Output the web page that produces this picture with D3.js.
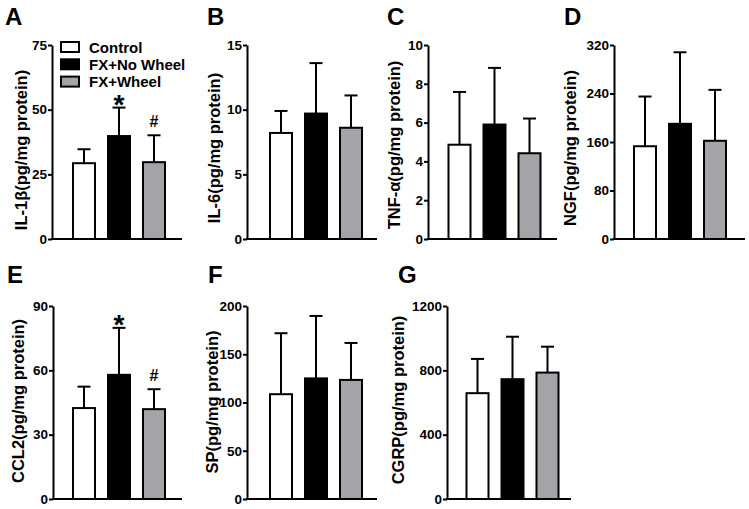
<!DOCTYPE html>
<html><head><meta charset="utf-8">
<script src="https://cdn.jsdelivr.net/npm/d3@7"></script>
<style>
html,body{margin:0;padding:0;background:#fff;}
svg text{font-family:"Liberation Sans",Arial,sans-serif;font-weight:bold;fill:#000;}
</style></head>
<body><svg id="chart" width="749" height="509"></svg>
<script>
// ---- data ----
const groups = ["Control", "FX+No Wheel", "FX+Wheel"];
const panelLetters = ["A", "B", "C", "D", "E", "F", "G"];
const yLabels = ["IL-1β(pg/mg protein)", "IL-6(pg/mg protein)", "TNF-α(pg/mg protein)", "NGF(pg/mg protein)",
                 "CCL2(pg/mg protein)", "SP(pg/mg protein)", "CGRP(pg/mg protein)"];
const il1bMean = [29.3, 39.8, 29.7], il1bSD = [5.4, 11.0, 10.4];
const il6Mean = [8.2, 9.7, 8.6], il6SD = [1.7, 3.9, 2.5];
const tnfMean = [4.86, 5.9, 4.42], tnfSD = [2.72, 2.92, 1.79];
const ngfMean = [153, 190, 162], ngfSD = [82, 118, 84];
const ccl2Mean = [42.4, 57.9, 41.9], ccl2SD = [10.0, 21.9, 9.3];
const spMean = [108.6, 125.0, 123.4], spSD = [63.2, 64.7, 38.3];
const cgrpMean = [658, 745, 786], cgrpSD = [213, 264, 161];
const yTicks = [[0, 25, 50, 75], [0, 5, 10, 15], [0, 2, 4, 6, 8, 10], [0, 80, 160, 240, 320],
                [0, 30, 60, 90], [0, 50, 100, 150, 200], [0, 400, 800, 1200]];
// significance markers: [panel index, group index, symbol]
const markers = [[0, 1, "*"], [0, 2, "#"], [4, 1, "*"], [4, 2, "#"]];

const means = [il1bMean, il6Mean, tnfMean, ngfMean, ccl2Mean, spMean, cgrpMean];
const sds = [il1bSD, il6SD, tnfSD, ngfSD, ccl2SD, spSD, cgrpSD];

// ---- layout (positions only) ----
const layout = [
  {ax: 52,  top: 45,  bot: 239, len: 130, off: 20, lab: 25, let: 47, mid: 150},
  {ax: 247, top: 45,  bot: 239, len: 130, off: 22, lab: 27, let: 40, mid: 148},
  {ax: 428, top: 45,  bot: 239, len: 129, off: 19.5, lab: 28, let: 41, mid: 145},
  {ax: 614, top: 45,  bot: 239, len: 131, off: 19, lab: 38, let: 50, mid: 148},
  {ax: 53,  top: 306, bot: 499, len: 129, off: 19, lab: 29, let: 46, mid: 401},
  {ax: 247, top: 306, bot: 499, len: 130, off: 22, lab: 29, let: 39, mid: 402},
  {ax: 447, top: 306, bot: 499, len: 124, off: 18.5, lab: 43, let: 49, mid: 400}
];
const fills = ["#ffffff", "#000000", "#a4a4a8"];

const svg = d3.select("#chart");

layout.forEach((L, i) => {
  const g = svg.append("g");
  const ticks = yTicks[i];
  const y = d3.scaleLinear().domain([0, ticks[ticks.length - 1]]).range([L.bot, L.top]);
  const step = 35;
  const x = d3.scaleBand().domain(groups)
    .range([L.ax + L.off - 5.5, L.ax + L.off - 5.5 + 3 * step])
    .paddingInner(11 / 35).paddingOuter(5.5 / 35);

  // y axis
  const yAxis = d3.axisLeft(y).tickValues(ticks).tickFormat(d3.format("d"))
    .tickSize(4).tickPadding(1).tickSizeOuter(0);
  const ga = g.append("g").attr("transform", `translate(${L.ax},0)`).call(yAxis);
  ga.select(".domain").attr("stroke", "#000").attr("stroke-width", 2);
  ga.selectAll(".tick line").attr("stroke", "#000").attr("stroke-width", 2);
  ga.selectAll(".tick text").style("font-size", "13.5px")
    .style("font-family", "'Liberation Sans',Arial,sans-serif").style("font-weight", "bold").attr("fill", "#000");

  // error bars (upper only)
  groups.forEach((gr, k) => {
    const cx = x(gr) + x.bandwidth() / 2;
    const yt = y(means[i][k] + sds[i][k]);
    g.append("line").attr("x1", cx).attr("x2", cx).attr("y1", y(means[i][k])).attr("y2", yt)
      .attr("stroke", "#000").attr("stroke-width", 2);
    g.append("line").attr("x1", cx - 6.5).attr("x2", cx + 6.5).attr("y1", yt).attr("y2", yt)
      .attr("stroke", "#000").attr("stroke-width", 2);
  });

  // bars
  g.selectAll("rect.bar").data(groups).enter().append("rect")
    .attr("x", d => x(d) + 1).attr("width", x.bandwidth() - 2)
    .attr("y", (d, k) => y(means[i][k]))
    .attr("height", (d, k) => L.bot - y(means[i][k]))
    .attr("fill", (d, k) => fills[k]).attr("stroke", "#000").attr("stroke-width", 2);

  // x axis line
  g.append("line").attr("x1", L.ax - 1).attr("x2", L.ax + L.len).attr("y1", L.bot).attr("y2", L.bot)
    .attr("stroke", "#000").attr("stroke-width", 2);

  // y label
  g.append("text").attr("transform", `translate(${L.ax - L.lab},${L.mid}) rotate(-90)`)
    .attr("text-anchor", "middle").style("font-size", "16.5px").text(yLabels[i]);

  // panel letter
  g.append("text").attr("x", L.ax - L.let).attr("y", i < 4 ? 25 : 283)
    .style("font-size", "24px").text(panelLetters[i]);

  // markers
  markers.filter(m => m[0] === i).forEach(m => {
    const k = m[1];
    const cx = x(groups[k]) + x.bandwidth() / 2;
    const yt = y(means[i][k] + sds[i][k]);
    if (m[2] === "*") {
      g.append("text").attr("x", cx).attr("y", yt + 6).attr("text-anchor", "middle")
        .style("font-size", "28px").text("*");
    } else {
      g.append("text").attr("x", cx).attr("y", yt - 8).attr("text-anchor", "middle")
        .style("font-size", "16px").text("#");
    }
  });

  // legend in panel A
  if (i === 0) {
    const lg = g.append("g");
    groups.forEach((gr, k) => {
      lg.append("rect").attr("x", 61).attr("y", 42 + k * 17.3).attr("width", 18).attr("height", 10)
        .attr("fill", fills[k]).attr("stroke", "#000").attr("stroke-width", 2);
      lg.append("text").attr("x", 89).attr("y", 47 + k * 17.3).attr("dominant-baseline", "central")
        .style("font-size", "15px").text(gr);
    });
  }
});
</script>
</body></html>
